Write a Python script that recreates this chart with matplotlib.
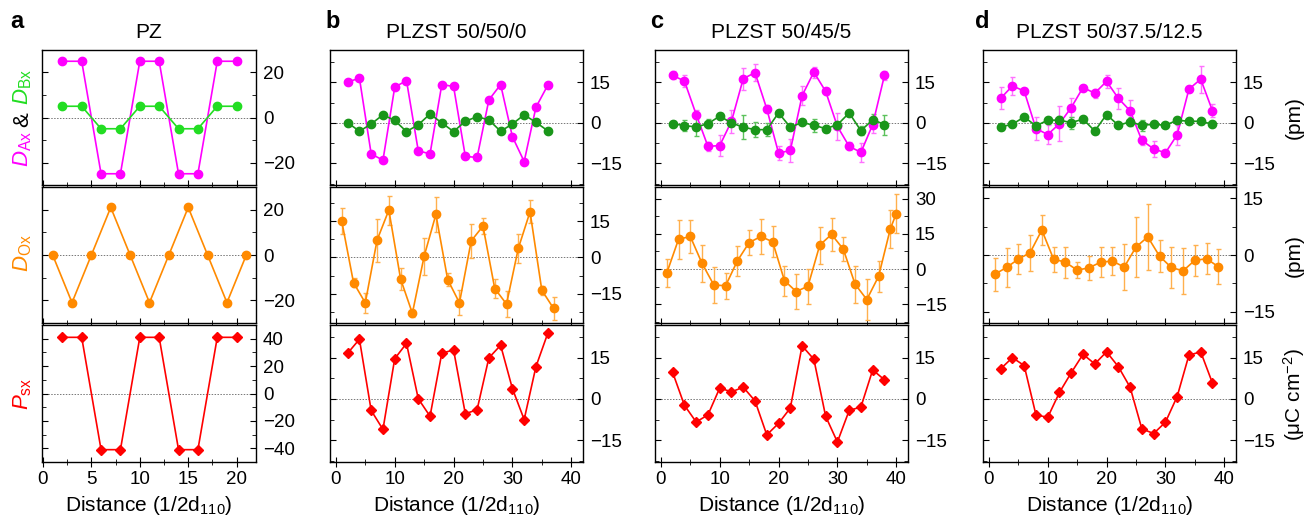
import matplotlib
matplotlib.use("Agg")
import matplotlib.pyplot as plt
from matplotlib.ticker import MultipleLocator

# ─── data ────────────────────────────────────────────────────────────────────
# panel a : PZ
a_x = [2, 4, 6, 8, 10, 12, 14, 16, 18, 20]
a_dax = [25, 25, -25, -25, 25, 25, -25, -25, 25, 25]
a_dbx = [5, 5, -5, -5, 5, 5, -5, -5, 5, 5]
a_x_ox = [1, 3, 5, 7, 9, 11, 13, 15, 17, 19, 21]
a_dox = [0, -21, 0, 21, 0, -21, 0, 21, 0, -21, 0]
a_psx = [41, 41, -41, -41, 41, 41, -41, -41, 41, 41]

# panel b : PLZST 50/50/0
b_x = [2, 4, 6, 8, 10, 12, 14, 16, 18, 20, 22, 24, 26, 28, 30, 32, 34, 36]
b_dax = [15.1, 16.6, -11.5, -13.8, 13.2, 15.7, -10.3, -11.5, 14.2, 13.5,
         -12.4, -12.8, 8.5, 14.2, -5.1, -14.3, 5.8, 13.9]
b_dbx = [0.1, -3.1, -0.4, 3.0, 0.9, -3.2, -0.7, 3.3, 0.0, -3.2,
         0.6, 2.3, 1.1, -3.1, -0.4, 3.0, 0.2, -2.9]
b_x_ox = [1, 3, 5, 7, 9, 11, 13, 15, 17, 19, 21, 23, 25, 27, 29, 31, 33, 35, 37]
b_dox = [14.9, -10.4, -18.7, 7.1, 19.5, -8.9, -23.0, 0.5, 17.7, -9.1,
         -18.7, 6.8, 12.9, -12.8, -19.2, 3.7, 18.8, -13.5, -21.0]
b_dox_err = [5.3, 1.9, 4.1, 8.9, 6.0, 4.6, 1.5, 7.7, 7.2, 2.7,
             5.1, 7.0, 3.3, 3.9, 5.3, 5.8, 4.7, 1.9, 4.8]
b_psx = [16.7, 21.8, -4.2, -11.1, 14.7, 20.3, 0.1, -6.3, 16.7, 17.9,
         -5.4, -3.9, 15.0, 19.6, 3.8, -7.5, 11.8, 23.9]

# panel c : PLZST 50/45/5
c_x = [2, 4, 6, 8, 10, 12, 14, 16, 18, 20, 22, 24, 26, 28, 30, 32, 34, 36, 38]
c_dax = [17.6, 15.5, 3.1, -8.7, -8.4, 0.6, 16.4, 18.6, 5.2, -11.2,
         -10.2, 10.1, 18.8, 11.7, -1.3, -8.7, -10.9, -0.6, 17.6]
c_dax_err = [1.5, 2.1, 1.7, 1.7, 3.8, 4.2, 4.1, 3.1, 1.4, 2.5,
             4.3, 3.4, 2.0, 1.4, 5.0, 1.5, 3.4, 3.0, 1.8]
c_dbx = [-0.3, -1.0, -1.5, -0.3, 2.5, 0.0, -1.6, -2.5, -2.5, 3.7,
         -1.6, 0.2, -0.9, -2.1, -0.7, 3.7, -2.9, 1.2, -0.6]
c_dbx_err = [1.0, 2.0, 3.5, 1.7, 1.2, 1.0, 4.5, 2.9, 2.5, 1.0,
             1.0, 0.7, 2.5, 1.2, 1.0, 1.2, 1.7, 2.2, 3.7]
c_x_ox = [1, 3, 5, 7, 9, 11, 13, 15, 17, 19, 21, 23, 25, 27, 29, 31, 33, 35, 37, 39, 40]
c_dox = [-1.7, 12.7, 13.9, 2.4, -6.8, -7.1, 3.5, 11.3, 13.9, 11.6,
         -4.9, -9.6, -7.3, 10.2, 14.8, 8.5, -6.4, -13.0, -3.1, 17.2, 23.6]
c_dox_err = [6.1, 8.3, 7.2, 7.9, 7.5, 5.5, 6.5, 5.5, 7.5, 6.6,
             6.4, 7.4, 7.4, 7.9, 6.9, 5.1, 7.9, 8.7, 6.7, 8.2, 8.3]
c_psx = [9.7, -2.3, -8.4, -5.8, 4.0, 2.6, 4.3, -0.7, -13.1, -8.9,
         -3.3, 19.4, 14.5, -6.3, -15.7, -4.2, -2.9, 10.6, 7.0]

# panel d : PLZST 50/37.5/12.5
d_x = [2, 4, 6, 8, 10, 12, 14, 16, 18, 20, 22, 24, 26, 28, 30, 32, 34, 36, 38]
d_dax = [9.1, 13.7, 11.8, -2.1, -4.3, -0.3, 5.7, 13.1, 11.0, 15.4,
         9.1, 4.5, -6.5, -9.6, -11.1, -4.4, 12.5, 16.2, 4.5]
d_dax_err = [4.1, 3.4, 1.0, 4.4, 3.4, 6.4, 3.6, 1.0, 1.7, 2.4,
             4.0, 3.9, 1.7, 2.9, 0.8, 3.6, 1.0, 5.0, 2.5]
d_dbx = [-1.5, -0.5, 2.2, -1.1, 1.0, 1.0, 0.1, 1.4, -3.0, 3.1,
         -0.9, 0.4, -0.9, -0.5, -0.9, 1.0, 0.6, 0.6, -0.5]
d_dbx_err = [1.2, 1.0, 1.2, 1.0, 1.2, 1.5, 2.2, 0.8, 1.0, 0.8,
             0.8, 1.7, 2.0, 0.8, 0.8, 1.0, 0.8, 1.0, 1.2]
d_x_ox = [1, 3, 5, 7, 9, 11, 13, 15, 17, 19, 21, 23, 25, 27, 29, 31, 33, 35, 37, 39]
d_dox = [-5.1, -3.3, -1.1, 0.6, 6.6, -1.1, -1.9, -4.0, -3.4, -1.9,
         -1.6, -3.2, 2.1, 4.8, -0.3, -3.3, -4.2, -1.4, -1.0, -3.1]
d_dox_err = [4.4, 5.2, 3.9, 4.8, 4.0, 3.3, 4.1, 2.1, 3.2, 3.9,
             3.6, 6.0, 7.9, 8.8, 4.3, 5.5, 6.0, 4.1, 4.1, 4.6]
d_psx = [11.0, 15.1, 12.2, -5.8, -6.7, 2.4, 9.6, 16.3, 12.8, 17.2,
         11.8, 4.3, -10.9, -12.6, -8.5, 0.9, 16.0, 17.2, 5.8]

titles = ["PZ", "PLZST 50/50/0", "PLZST 50/45/5", "PLZST 50/37.5/12.5"]
letters = ["a", "b", "c", "d"]

# ─── style ───────────────────────────────────────────────────────────────────
plt.rcParams.update({
    "font.family": ["Liberation Sans", "DejaVu Sans"],
    "font.size": 13.5,
    "mathtext.fontset": "custom",
    "mathtext.rm": "Liberation Sans",
    "mathtext.it": "Liberation Sans:italic",
    "mathtext.bf": "Liberation Sans:bold",
    "axes.linewidth": 1.0,
})

MAGENTA = "#ff00ff"
MAGENTA_E = "#ff70ff"
GREEN_PZ = "#22dd22"
GREEN = "#1a961a"
GREEN_E = "#5cc25c"
ORANGE = "#ff8a00"
ORANGE_E = "#ffb04d"
RED = "#ff0000"

W, H = 1310, 522
fig = plt.figure(figsize=(W / 100, H / 100), dpi=100)

cols = [(42, 256), (330, 583), (655, 908), (983, 1236)]
rows = [(50, 185), (187, 323), (325, 462)]


def box(col, row):
    l, r = col
    t, b = row
    return [l / W, 1 - b / H, (r - l) / W, (b - t) / H]


def draw(ax, x, y, color, marker, yerr=None, ecolor=None):
    if yerr is not None:
        ax.errorbar(x, y, yerr=yerr, fmt="none", ecolor=ecolor,
                    elinewidth=1.0, capsize=1.8, capthick=1.0, zorder=2)
    ms = 6.0 if marker == "o" else 5.0
    ax.plot(x, y, "-", color=color, lw=1.2, marker=marker, ms=ms,
            mfc=color, mec=color, zorder=3)


def style(ax, xlim, xmaj, xmin, ylim, ymaj, ymin, labels):
    ax.set_xlim(*xlim)
    ax.set_ylim(*ylim)
    ax.xaxis.set_major_locator(MultipleLocator(xmaj))
    ax.xaxis.set_minor_locator(MultipleLocator(xmin))
    ax.yaxis.set_major_locator(MultipleLocator(ymaj))
    ax.yaxis.set_minor_locator(MultipleLocator(ymin))
    ax.tick_params(axis="y", which="both", left=True, right=True,
                   labelleft=False, labelright=True, direction="in")
    ax.tick_params(axis="y", which="major", length=4, pad=5)
    ax.tick_params(axis="y", which="minor", length=3)
    ax.tick_params(axis="x", which="both", top=False, bottom=True,
                   direction="inout", labelbottom=labels)
    ax.tick_params(axis="x", which="major", length=7, pad=3)
    ax.tick_params(axis="x", which="minor", length=4)
    ax.axhline(0, color="#777777", lw=0.7, ls=(0, (1.5, 1.5)), zorder=1)
    if labels:
        ax.set_xlabel("Distance (1/2d$_{\\mathrm{110}}$)", fontsize=15, labelpad=4)


axes = [[fig.add_axes(box(c, r)) for r in rows] for c in cols]

# panel a
top, mid, bot = axes[0]
draw(top, a_x, a_dax, MAGENTA, "o")
draw(top, a_x, a_dbx, GREEN_PZ, "o")
draw(mid, a_x_ox, a_dox, ORANGE, "o")
draw(bot, a_x, a_psx, RED, "D")
style(top, (-0.1, 22), 5, 2.5, (-30, 30), 20, 10, False)
style(mid, (-0.1, 22), 5, 2.5, (-30, 30), 20, 10, False)
style(bot, (-0.1, 22), 5, 2.5, (-50, 50), 20, 10, True)

# panel b
top, mid, bot = axes[1]
draw(top, b_x, b_dax, MAGENTA, "o")
draw(top, b_x, b_dbx, GREEN, "o")
draw(mid, b_x_ox, b_dox, ORANGE, "o", b_dox_err, ORANGE_E)
draw(bot, b_x, b_psx, RED, "D")
style(top, (-1, 42), 10, 5, (-23, 27), 15, 7.5, False)
style(mid, (-1, 42), 10, 5, (-27, 29), 15, 7.5, False)
style(bot, (-1, 42), 10, 5, (-23, 27), 15, 7.5, True)

# panel c
top, mid, bot = axes[2]
draw(top, c_x, c_dax, MAGENTA, "o", c_dax_err, MAGENTA_E)
draw(top, c_x, c_dbx, GREEN, "o", c_dbx_err, GREEN_E)
draw(mid, c_x_ox, c_dox, ORANGE, "o", c_dox_err, ORANGE_E)
draw(bot, c_x, c_psx, RED, "D")
style(top, (-1, 42), 10, 5, (-23, 27), 15, 7.5, False)
style(mid, (-1, 42), 10, 5, (-23, 35), 15, 7.5, False)
style(bot, (-1, 42), 10, 5, (-23, 27), 15, 7.5, True)

# panel d
top, mid, bot = axes[3]
draw(top, d_x, d_dax, MAGENTA, "o", d_dax_err, MAGENTA_E)
draw(top, d_x, d_dbx, GREEN, "o", d_dbx_err, GREEN_E)
draw(mid, d_x_ox, d_dox, ORANGE, "o", d_dox_err, ORANGE_E)
draw(bot, d_x, d_psx, RED, "D")
style(top, (-1, 42), 10, 5, (-23, 27), 15, 7.5, False)
style(mid, (-1, 42), 10, 5, (-18, 18), 15, 7.5, False)
style(bot, (-1, 42), 10, 5, (-23, 27), 15, 7.5, True)

# titles and panel letters
for (l, r), title in zip(cols, titles):
    fig.text((l + r) / 2 / W, 1 - 33 / H, title, fontsize=15,
             ha="center", va="center")
for px, letter in zip([17, 333, 657, 982], letters):
    fig.text(px / W, 1 - 21 / H, letter, fontsize=17, fontweight="bold",
             ha="center", va="center")


def ftext(px, py, s, **kw):
    fig.text(px / W, 1 - py / H, s, rotation=90, ha="center", va="center",
             fontsize=16, **kw)


# left labels (panel a)
ftext(23, 149, r"$D_{\mathrm{Ax}}$", color=MAGENTA)
ftext(23, 120, "&", color="black")
ftext(23, 87, r"$D_{\mathrm{Bx}}$", color=GREEN_PZ)
ftext(23, 253, r"$D_{\mathrm{Ox}}$", color=ORANGE)
ftext(23, 394, r"$P_{\mathrm{sx}}$", color=RED)

# right labels (panel d)
fig.text(1294 / W, 1 - 118 / H, "(pm)", rotation=90, ha="center",
         va="center", fontsize=15)
fig.text(1294 / W, 1 - 256 / H, "(pm)", rotation=90, ha="center",
         va="center", fontsize=15)
fig.text(1294 / W, 1 - 395 / H, "(\u03bcC cm$^{\\mathrm{\u22122}}$)",
         rotation=90, ha="center", va="center", fontsize=15)

fig.savefig("out.png", dpi=100, facecolor="white")
